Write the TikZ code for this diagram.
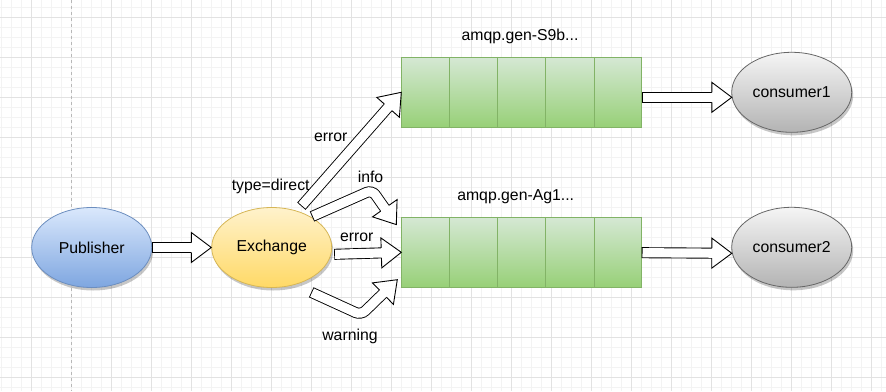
\documentclass[tikz,border=0pt]{standalone}
\usepackage{fontspec}
\setmainfont{Liberation Sans}
\usetikzlibrary{calc,shapes.geometric,shadows}
\definecolor{pubtop}{HTML}{DAE8FC}\definecolor{pubbot}{HTML}{7EA6E0}\definecolor{pubdraw}{HTML}{6C8EBF}
\definecolor{extop}{HTML}{FFF2CC}\definecolor{exbot}{HTML}{FFD966}\definecolor{exdraw}{HTML}{D6B656}
\definecolor{qtop}{HTML}{D5E8D4}\definecolor{qbot}{HTML}{97D077}\definecolor{qdraw}{HTML}{82B366}
\definecolor{ctop}{HTML}{F5F5F5}\definecolor{cbot}{HTML}{B3B3B3}\definecolor{cdraw}{HTML}{666666}
\definecolor{minorgrid}{HTML}{F3F3F3}\definecolor{majorgrid}{HTML}{E2E2E2}\definecolor{dashgray}{HTML}{B8B8B8}
\newcommand\blockarrow[3]{%
  \path ($(#3)!20pt!(#2)$) coordinate (ab);
  \draw[shaftline] #1 -- (ab);
  \draw[headline] ($(ab)!5pt!90:(#3)$) -- ($(ab)!15pt!90:(#3)$) -- (#3) -- ($(ab)!15pt!-90:(#3)$) -- ($(ab)!5pt!-90:(#3)$);
}
\begin{document}
\begin{tikzpicture}[x=1pt,y=-1pt,
  lbl/.style={inner sep=0pt, font=\fontsize{15.8pt}{19pt}\selectfont},
  ell/.style={ellipse, minimum width=120pt, minimum height=80pt, inner sep=0pt, line width=0.8pt,
    font=\fontsize{15.8pt}{19pt}\selectfont,
    drop shadow={shadow xshift=1.5pt, shadow yshift=-3pt, fill=black, opacity=0.22}},
  pubnode/.style={ell, draw=pubdraw, top color=pubtop, bottom color=pubbot},
  exnode/.style={ell, draw=exdraw, top color=extop, bottom color=exbot},
  consnode/.style={ell, draw=cdraw, top color=ctop, bottom color=cbot},
  queuenode/.style={rectangle, minimum width=240pt, minimum height=70pt, inner sep=0pt, line width=0.8pt,
    draw=qdraw, top color=qtop, bottom color=qbot},
  qline/.style={draw=qdraw, line width=0.8pt},
  shaftline/.style={draw=black, line width=0.9pt, double=white, double distance=9.2pt, line cap=rect,
    rounded corners=6pt, shorten <=5pt},
  headline/.style={draw=black, line width=0.9pt, fill=white, line join=miter},
]
\useasboundingbox (0,0) rectangle (886,391);
\fill[white] (0,0) rectangle (886,391);
% grid
\foreach \x in {1.7,11.7,...,881.7} \draw[minorgrid, line width=0.8pt] (\x,0) -- (\x,391);
\foreach \y in {7.3,17.3,...,387.3} \draw[minorgrid, line width=0.8pt] (0,\y) -- (886,\y);
\foreach \x in {31.7,111.7,151.7,...,871.7} \draw[majorgrid, line width=0.8pt] (\x,0) -- (\x,391);
\foreach \y in {17.3,57.3,...,377.3} \draw[majorgrid, line width=0.8pt] (0,\y) -- (886,\y);
\draw[dashgray, line width=0.8pt, dash pattern=on 3pt off 3pt] (71.7,0) -- (71.7,391);

% nodes
\node[pubnode] (pub) at (91.7,247.5) {Publisher};
\node[exnode] (ex) at (271.7,247.5) {Exchange};
\node[queuenode] (q1) at (521.7,92.3) {};
\node[queuenode] (q2) at (521.7,252.3) {};
\foreach \q in {q1,q2}{
  \foreach \k in {1,2,3,4}
    \draw[qline] ($(\q.north west)!\k/5!(\q.north east)$) -- ($(\q.south west)!\k/5!(\q.south east)$);
}
\node[consnode] (c1) at (791.7,92.3) {consumer1};
\node[consnode] (c2) at (791.7,247.3) {consumer2};

% labels
\node[lbl] (lq1) at (520,36) {amqp.gen-S9b...};
\node[lbl] (lq2) at (515.7,196.7) {amqp.gen-Ag1...};
\node[lbl] (ltype) at (270.7,186.7) {type=direct};
\node[lbl] (lerr1) at (330.7,137.3) {error};
\node[lbl] (linfo) at (370.5,176.5) {info};
\node[lbl] (lerr2) at (356.7,237.3) {error};
\node[lbl] (lwarn) at (350,336.7) {warning};

% connector end points
\coordinate (t1) at ($(ex.center)+(30,-41.7)$);
\coordinate (t2) at ($(ex.center)+(40.8,-31.2)$);
\coordinate (b2) at (372,190);
\coordinate (h2) at ($(q2.north west)+(-5,7.7)$);
\coordinate (t3) at ($(ex.east)+(2.6,6.8)$);
\coordinate (t4) at ($(ex.center)+(40,45)$);
\coordinate (b4) at (361,315);
\coordinate (h4) at ($(q2.south west)+(-4,-8)$);
\coordinate (t5) at ($(q1.east)+(0,5)$);
\coordinate (h5) at ($(c1.west)+(0.5,5)$);
\coordinate (t6) at ($(q2.east)+(0,0.4)$);
\coordinate (h6) at ($(c2.west)+(0.5,6)$);

% block arrows
\blockarrow{(pub.east)}{pub.east}{ex.west}
\blockarrow{(t1)}{t1}{q1.west}
\blockarrow{(t2) -- (b2)}{b2}{h2}
\blockarrow{(t3)}{t3}{q2.west}
\blockarrow{(t4) -- (b4)}{b4}{h4}
\blockarrow{(t5)}{t5}{h5}
\blockarrow{(t6)}{t6}{h6}
\end{tikzpicture}
\end{document}
